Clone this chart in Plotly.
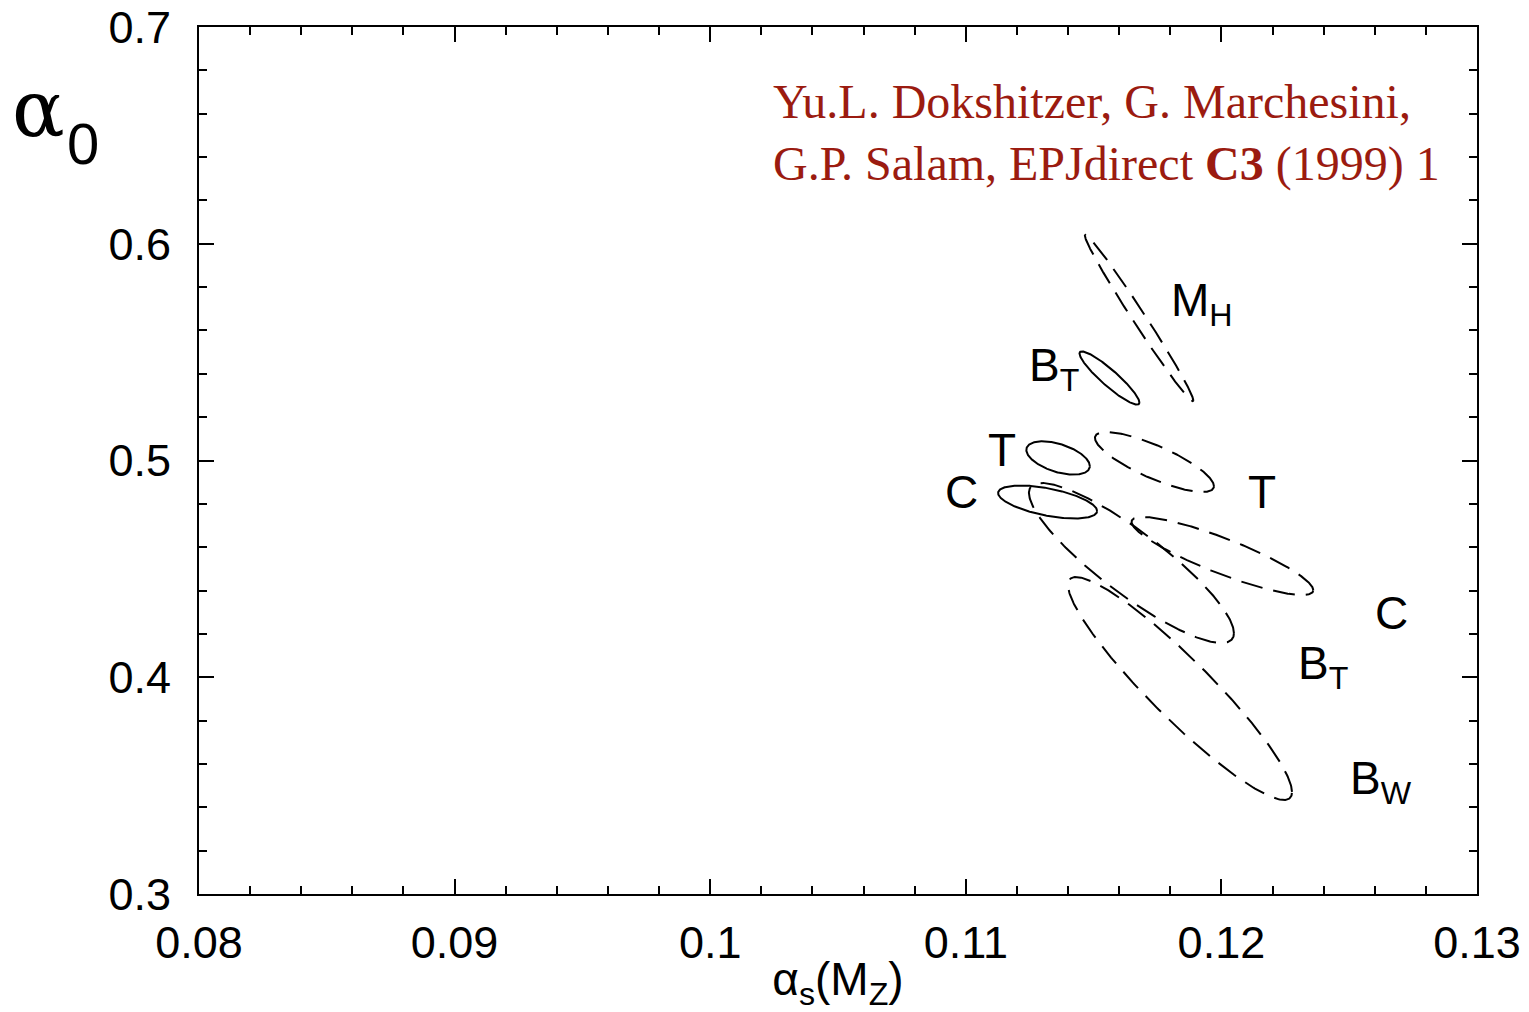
import numpy as np
import plotly.graph_objects as go

# Fit contours in the (alpha_s(M_Z), alpha_0) plane.
# Each contour: centre, one-sigma widths and correlation coefficient.
names = ["M_H", "B_T", "T", "C", "T", "C", "B_T", "B_W"]
solid = [False, True, True, True, False, False, False, False]
centre_as = [0.11678, 0.11562, 0.11361, 0.11320, 0.11738, 0.12004, 0.11648, 0.11838]
centre_a0 = [0.56574, 0.53806, 0.50115, 0.48085, 0.49931, 0.45594, 0.45271, 0.39481]
sigma_as = [0.00212, 0.001172, 0.001242, 0.001937, 0.002328, 0.003555, 0.00401, 0.004382]
sigma_a0 = [0.03834, 0.01230, 0.00769, 0.00761, 0.01384, 0.01801, 0.03691, 0.05144]
rho = [-0.990, -0.919, -0.487, -0.545, -0.804, -0.875, -0.876, -0.928]

# Label text and anchor (left edge, mid-height) for each contour
label_text = ["M<sub>H</sub>", "B<sub>T</sub>", "T", "C", "T", "C", "B<sub>T</sub>", "B<sub>W</sub>"]
label_as = [0.11795, 0.11240, 0.11080, 0.10910, 0.12095, 0.12595, 0.12290, 0.12495]
label_a0 = [0.5724, 0.54244, 0.50507, 0.48524, 0.48570, 0.42987, 0.40496, 0.35190]

x_ticks = [0.08, 0.09, 0.10, 0.11, 0.12, 0.13]
x_tick_text = ["0.08", "0.09", "0.1", "0.11", "0.12", "0.13"]
y_ticks = [0.3, 0.4, 0.5, 0.6, 0.7]
y_tick_text = ["0.3", "0.4", "0.5", "0.6", "0.7"]

SANS = "Liberation Sans, Arial, Helvetica, sans-serif"
SERIF = "Liberation Serif, Times New Roman, serif"

fig = go.Figure()

t = np.linspace(0, 2 * np.pi, 361)
for i in range(len(names)):
    r = rho[i]
    xs = centre_as[i] + sigma_as[i] * np.cos(t)
    ys = centre_a0[i] + sigma_a0[i] * (r * np.cos(t) + np.sqrt(1 - r * r) * np.sin(t))
    fig.add_trace(go.Scatter(
        x=xs, y=ys, mode="lines", name=names[i], showlegend=False,
        hoverinfo="skip",
        line=dict(color="black", width=2, dash="solid" if solid[i] else "22px,11px"),
    ))

for i in range(len(names)):
    fig.add_annotation(
        x=label_as[i], y=label_a0[i], xref="x", yref="y",
        text=label_text[i], showarrow=False, xanchor="left", yanchor="middle",
        font=dict(family=SANS, size=46, color="black"),
    )

# Reference line in the upper right
fig.add_annotation(
    x=0.4476, y=0.947, xref="paper", yref="paper", xanchor="left", yanchor="top",
    align="left", showarrow=False,
    text="Yu.L. Dokshitzer, G. Marchesini,<br>G.P. Salam, EPJdirect <b>C3</b> (1999) 1",
    font=dict(family=SERIF, size=48, color="#9b1b10"),
)

# Vertical-axis symbol: serif alpha with a sans subscript zero
fig.add_annotation(
    x=-0.148, y=0.905, xref="paper", yref="paper", xanchor="left", yanchor="middle",
    showarrow=False, text="α",
    font=dict(family="DejaVu Serif, serif", size=78, color="black"),
)
fig.add_annotation(
    x=-0.1045, y=0.866, xref="paper", yref="paper", xanchor="left", yanchor="middle",
    showarrow=False, text="0",
    font=dict(family=SANS, size=58, color="black"),
)

axis_common = dict(
    showgrid=False, zeroline=False, showline=True, linecolor="black", linewidth=2,
    mirror="allticks", ticks="inside", ticklen=15, tickwidth=2, tickcolor="black",
    tickfont=dict(family=SANS, size=45, color="black"),
)

fig.update_xaxes(
    range=[0.08, 0.13], tickvals=x_ticks, ticktext=x_tick_text,
    minor=dict(dtick=0.002, ticks="inside", ticklen=8, tickwidth=2, tickcolor="black"),
    ticklabelstandoff=8,
    title=dict(text="α<sub>s</sub>(M<sub>Z</sub>)", font=dict(family=SANS, size=46, color="black"),
               standoff=0),
    **axis_common,
)
fig.update_yaxes(
    range=[0.3, 0.7], tickvals=y_ticks, ticktext=y_tick_text,
    minor=dict(dtick=0.02, ticks="inside", ticklen=8, tickwidth=2, tickcolor="black"),
    ticklabelstandoff=17,
    **axis_common,
)

fig.update_layout(
    width=1529, height=1012,
    margin=dict(l=199, r=52, t=27, b=118, autoexpand=False),
    paper_bgcolor="white", plot_bgcolor="white",
)

fig.write_html("out.html")
